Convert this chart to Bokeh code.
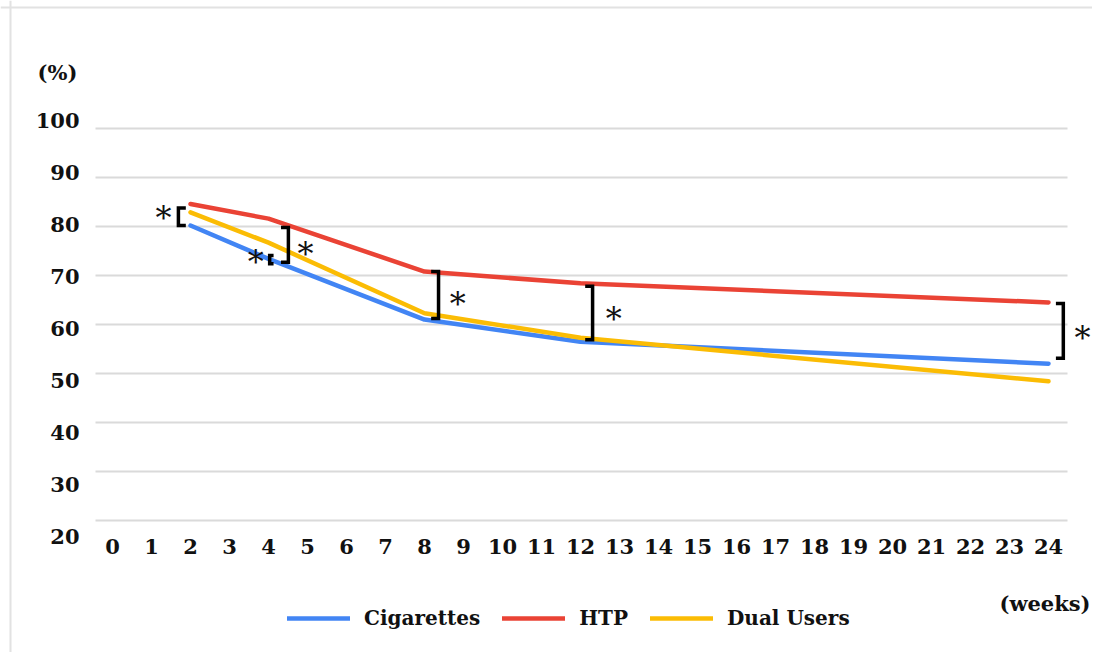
from bokeh.plotting import figure
from bokeh.models import Range1d, Legend, LegendItem, Label, Span
from bokeh.core.properties import value
from bokeh.embed import file_html
from bokeh.resources import INLINE

# ---- data ----
weeks = [2, 4, 8, 12, 24]
cigarettes = [80.2, 73.4, 61.0, 56.5, 52.0]
htp = [84.6, 81.6, 70.8, 68.4, 64.5]
dual_users = [82.9, 76.7, 62.3, 57.3, 48.4]
x_ticks = list(range(0, 25))
y_ticks = [20, 30, 40, 50, 60, 70, 80, 90, 100]

# significance brackets (week position, top value, bottom value, opening side)
br_week = [1.69, 4.03, 4.51, 8.36, 12.31, 24.38]
br_top = [83.8, 74.1, 79.8, 70.8, 67.8, 64.3]
br_bottom = [80.2, 72.4, 72.7, 61.2, 56.9, 53.1]
br_side = ["[", "[", "]", "]", "]", "]"]
star_week = [1.31, 3.67, 4.95, 8.85, 12.85, 24.87]
star_val = [82.7, 73.7, 75.5, 65.3, 62.2, 58.2]

BLUE = "#4285F4"
RED = "#EA4335"
YELLOW = "#FBBC04"
GRID = "#dadada"
FONT = "DejaVu Serif"
INK = "#111111"

# ---- layout (pixel geometry of the canvas) ----
W, H = 1092, 652
PX0, PXW = 112.0, 39.0      # x pixel of week 0, pixels per week
PY100, PYU = 128.0, 4.9     # y pixel of 100 %, pixels per percent
LABEL_PYU = 5.2             # the y tick labels are spread a little wider than the grid


def wk(px):
    return (px - PX0) / PXW


def val(py):
    return 100 - (py - PY100) / PYU


p = figure(width=W, height=H, output_backend="svg", toolbar_location=None,
           x_range=Range1d(wk(0), wk(W)), y_range=Range1d(val(H), val(0)),
           min_border=0, min_border_left=0, min_border_right=0,
           min_border_top=0, min_border_bottom=0)
p.axis.visible = False
p.grid.visible = False
p.outline_line_color = None
p.background_fill_color = "white"
p.border_fill_color = "white"

# page frame lines (top and left)
p.add_layout(Span(location=val(7), dimension="width", line_color="#e2e2e2", line_width=2))
p.add_layout(Span(location=wk(10), dimension="height", line_color="#e2e2e2", line_width=2))

# horizontal grid + base axis line
p.segment(x0=wk(95), x1=wk(1067), y0=y_ticks, y1=y_ticks, line_color=GRID, line_width=2)

# tick labels
y_label_shift = [-8 + (100 - t) * (LABEL_PYU - PYU) for t in y_ticks]
p.text(x=wk(79), y=y_ticks, text=[str(t) for t in y_ticks], y_offset=y_label_shift,
       text_align="right", text_baseline="middle", text_font=value(FONT),
       text_font_style="bold", text_font_size=value("21px"), text_color=INK)
p.text(x=x_ticks, y=val(546), text=[str(t) for t in x_ticks], text_align="center",
       text_baseline="middle", text_font=value(FONT), text_font_style="bold",
       text_font_size=value("21px"), text_color=INK)

# series
r_c = p.line(weeks, cigarettes, line_color=BLUE, line_width=4.5, line_join="round", line_cap="round")
r_h = p.line(weeks, htp, line_color=RED, line_width=4.5, line_join="round", line_cap="round")
r_d = p.line(weeks, dual_users, line_color=YELLOW, line_width=4.5, line_join="round", line_cap="round")

# brackets
xs, ys = [], []
for w, t, b, s in zip(br_week, br_top, br_bottom, br_side):
    arm = 0.19 if (t - b) > 3 else 0.1
    tip = w + arm if s == "[" else w - arm
    xs.append([tip, w, w, tip])
    ys.append([t, t, b, b])
p.multi_line(xs, ys, line_color="black", line_width=3.5, line_join="miter")

for w, v in zip(star_week, star_val):
    p.add_layout(Label(x=w, y=v, text="*", text_font=FONT, text_font_size="32px",
                       text_align="center", text_baseline="middle", y_offset=-5,
                       text_color=INK))

# unit labels
p.add_layout(Label(x=wk(57), y=val(72), text="(%)",
                   text_font=FONT, text_font_style="bold", text_font_size="21px",
                   text_align="center", text_baseline="middle", text_color=INK))
p.add_layout(Label(x=wk(1090), y=val(603), text="(weeks)",
                   text_font=FONT, text_font_style="bold", text_font_size="21px",
                   text_align="right", text_baseline="middle", text_color=INK))

legend = Legend(items=[LegendItem(label="Cigarettes", renderers=[r_c]),
                       LegendItem(label="HTP", renderers=[r_h]),
                       LegendItem(label="Dual Users", renderers=[r_d])],
                orientation="horizontal", location=(287, H - 630),
                glyph_width=63, glyph_height=24, label_standoff=14, spacing=22,
                padding=0, margin=0, border_line_color=None, background_fill_alpha=0,
                label_text_font=FONT, label_text_font_style="bold",
                label_text_font_size="20px", label_text_color=INK)
p.add_layout(legend, "center")

open("out.html", "w").write(file_html(p, INLINE))
